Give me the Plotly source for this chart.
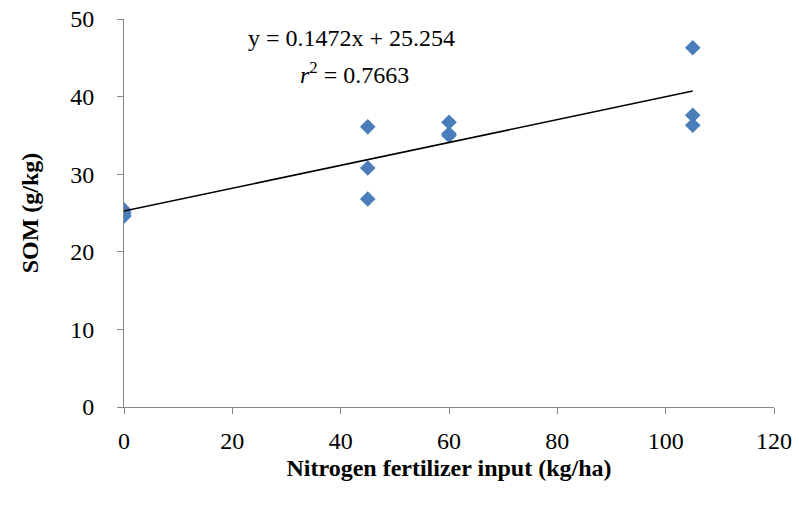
import numpy as np
import plotly.graph_objects as go

# Data
n_input = [0, 0, 0, 45, 45, 45, 60, 60, 60, 105, 105, 105]
som = [25.4, 24.6, 25.0, 36.1, 30.8, 26.8, 36.7, 35.0, 35.2, 46.3, 37.6, 36.3]

slope = 0.1472
intercept = 25.254
r2 = 0.7663

x_ticks = [0, 20, 40, 60, 80, 100, 120]
y_ticks = [0, 10, 20, 30, 40, 50]

fit_x = [min(n_input), max(n_input)]
fit_y = [slope * v + intercept for v in fit_x]

font_family = "Liberation Serif, Times New Roman, serif"
axis_color = "#868686"

fig = go.Figure()
fig.add_trace(go.Scatter(
    x=n_input, y=som, mode="markers",
    marker=dict(symbol="diamond", size=12, color="#4A7EBB",
                line=dict(width=0)),
    showlegend=False,
))
fig.add_trace(go.Scatter(
    x=fit_x, y=fit_y, mode="lines",
    line=dict(color="black", width=1.5),
    showlegend=False,
))

fig.add_annotation(
    x=0.35, y=0.951, xref="paper", yref="paper",
    text=f"y = {slope}x + {intercept}", showarrow=False,
    font=dict(family=font_family, size=24, color="black"),
    xanchor="center", yanchor="middle",
)
fig.add_annotation(
    x=0.355, y=0.86, xref="paper", yref="paper",
    text=f"<i>r</i><sup>2</sup> = {r2}", showarrow=False,
    font=dict(family=font_family, size=24, color="black"),
    xanchor="center", yanchor="middle",
)

fig.update_layout(
    width=799, height=509,
    margin=dict(l=124, r=25, t=19, b=102, autoexpand=False),
    plot_bgcolor="white", paper_bgcolor="white",
    font=dict(family=font_family, size=23, color="black"),
    xaxis=dict(
        range=[0, 120], tickvals=x_ticks, showgrid=False, zeroline=False,
        showline=True, linecolor=axis_color, linewidth=1,
        ticks="outside", ticklen=6, tickcolor=axis_color,
        tickfont=dict(family=font_family, size=24),
        ticklabelstandoff=6, automargin=False,
        title=dict(text="<b>Nitrogen fertilizer input (kg/ha)</b>",
                   font=dict(family=font_family, size=24), standoff=6),
    ),
    yaxis=dict(
        range=[0, 50], tickvals=y_ticks, showgrid=False, zeroline=False,
        showline=True, linecolor=axis_color, linewidth=1,
        ticks="outside", ticklen=6, tickcolor=axis_color,
        tickfont=dict(family=font_family, size=24),
        ticklabelstandoff=18, automargin=False,
        title=dict(text="<b>SOM (g/kg)</b>",
                   font=dict(family=font_family, size=24), standoff=24),
    ),
)

fig.write_html("out.html", config={"displayModeBar": False},
               post_script="document.body.style.margin='0';")
